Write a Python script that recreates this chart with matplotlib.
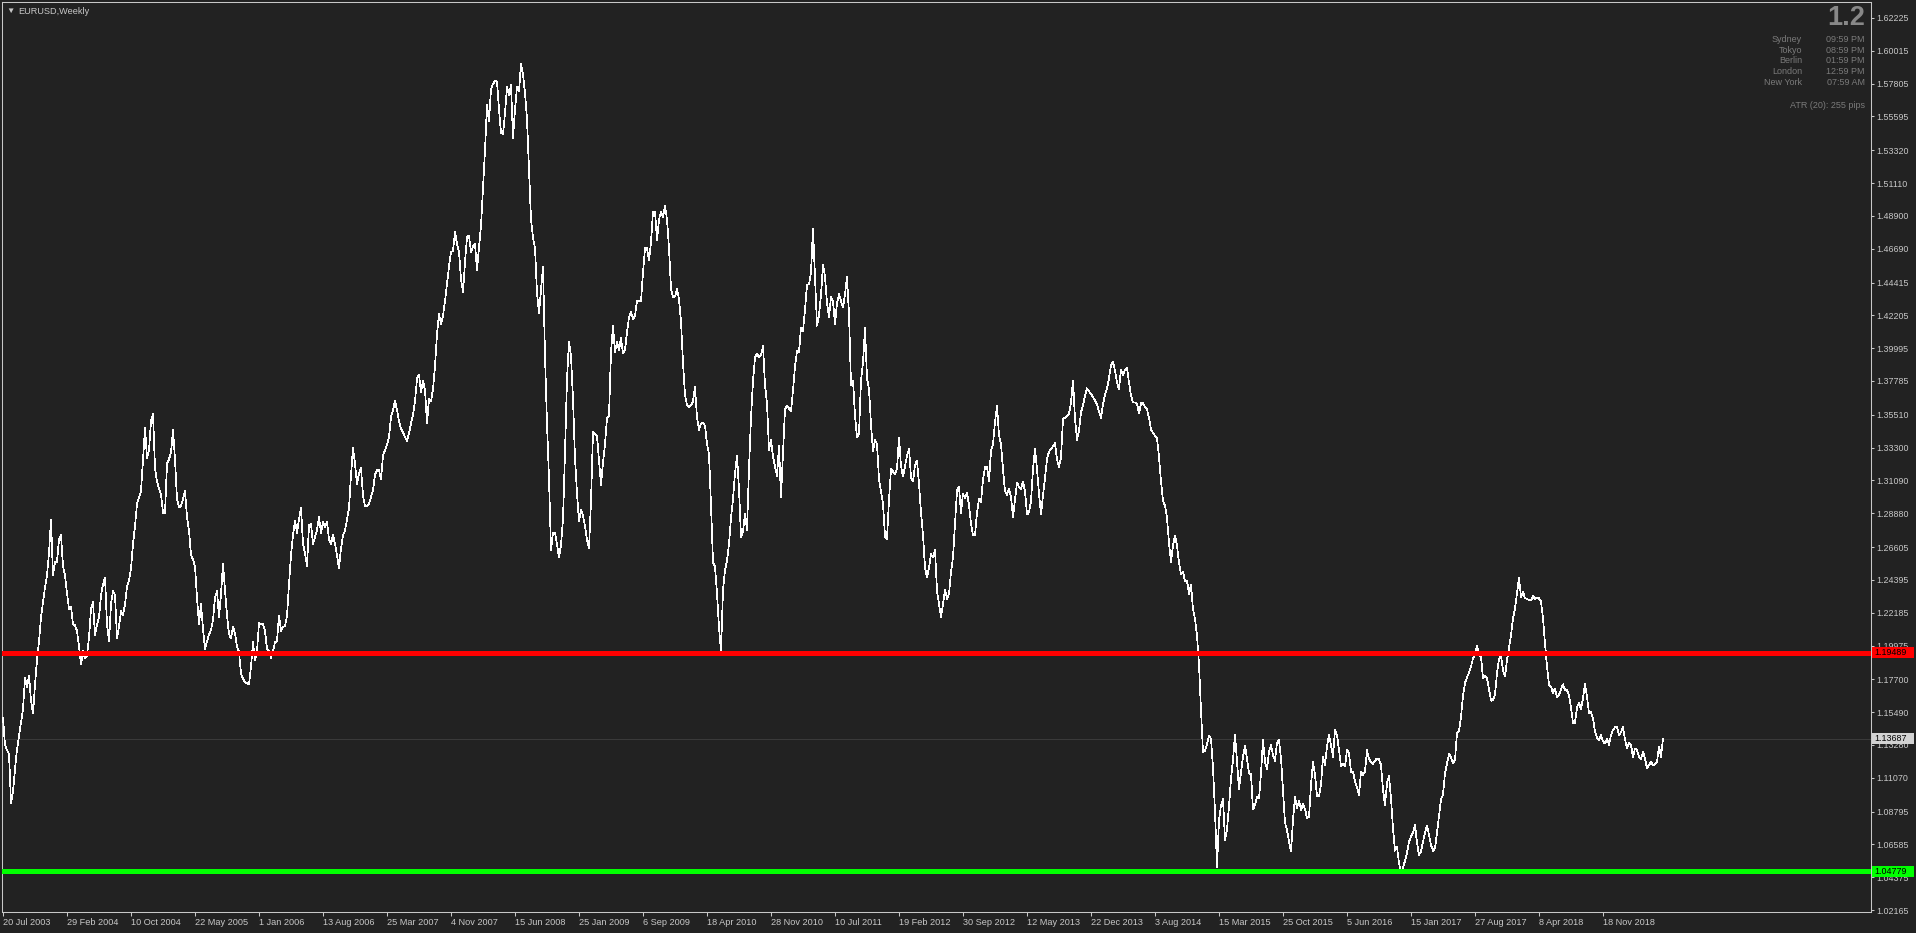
import numpy as np
import matplotlib
matplotlib.use("Agg")
import matplotlib.pyplot as plt
from matplotlib.patches import Rectangle
from matplotlib.transforms import blended_transform_factory

plt.rcParams['font.family'] = ['Liberation Sans', 'DejaVu Sans']

# weekly closes, split by era
closes_2003_2007 = [
    1.1509, 1.1328, 1.1292, 1.1268, 1.0938, 1.1013, 1.1163, 1.1298, 1.1389, 1.1485,
    1.1569, 1.1779, 1.1719, 1.1794, 1.1629, 1.1539, 1.1734, 1.1900, 1.2026, 1.2185,
    1.2290, 1.2389, 1.2471, 1.2621, 1.2846, 1.2471, 1.2561, 1.2561, 1.2711, 1.2741,
    1.2531, 1.2471, 1.2350, 1.2245, 1.2260, 1.2140, 1.2134, 1.2095, 1.1990, 1.1869,
    1.1960, 1.1909, 1.1930, 1.2050, 1.2245, 1.2290, 1.2065, 1.2140, 1.2185, 1.2335,
    1.2410, 1.2456, 1.2140, 1.2026, 1.2275, 1.2365, 1.2335, 1.2050, 1.2125, 1.2230,
    1.2200, 1.2275, 1.2395, 1.2434, 1.2516, 1.2681, 1.2801, 1.2951, 1.2996, 1.3036,
    1.3252, 1.3462, 1.3258, 1.3312, 1.3508, 1.3559, 1.3192, 1.3102, 1.3054, 1.3012,
    1.2891, 1.2891, 1.3222, 1.3252, 1.3297, 1.3448, 1.3252, 1.2982, 1.2928, 1.2937,
    1.2982, 1.3042, 1.2861, 1.2771, 1.2606, 1.2576, 1.2531, 1.2320, 1.2140, 1.2275,
    1.2110, 1.1975, 1.2026, 1.2071, 1.2101, 1.2170, 1.2320, 1.2365, 1.2185, 1.2344,
    1.2546, 1.2374, 1.2200, 1.2074, 1.2044, 1.2125, 1.2080, 1.1990, 1.1954, 1.1809,
    1.1773, 1.1749, 1.1743, 1.1734, 1.1854, 1.2020, 1.1900, 1.1960, 1.2149, 1.2140,
    1.2140, 1.2095, 1.1975, 1.1960, 1.1915, 1.1960, 1.2020, 1.2026, 1.2200, 1.2095,
    1.2125, 1.2125, 1.2200, 1.2410, 1.2606, 1.2741, 1.2837, 1.2756, 1.2846, 1.2922,
    1.2681, 1.2621, 1.2531, 1.2807, 1.2816, 1.2681, 1.2726, 1.2777, 1.2861, 1.2756,
    1.2831, 1.2795, 1.2831, 1.2711, 1.2681, 1.2741, 1.2681, 1.2606, 1.2516, 1.2651,
    1.2741, 1.2771, 1.2846, 1.2922, 1.3147, 1.3327, 1.3222, 1.3087, 1.3156, 1.3192,
    1.3006, 1.2937, 1.2937, 1.2951, 1.2996, 1.3042, 1.3147, 1.3177, 1.3177, 1.3117,
    1.3276, 1.3312, 1.3348, 1.3402, 1.3538, 1.3583, 1.3643, 1.3583, 1.3508, 1.3456,
    1.3432, 1.3402, 1.3372, 1.3426, 1.3493, 1.3553, 1.3643, 1.3793, 1.3823, 1.3703,
    1.3778, 1.3718, 1.3493, 1.3658,
]
closes_2007_2011 = [
    1.3642, 1.3725, 1.3876, 1.4096, 1.4233, 1.4159, 1.4219, 1.4316, 1.4431, 1.4549,
    1.4651, 1.4651, 1.4783, 1.4700, 1.4645, 1.4467, 1.4376, 1.4577, 1.4750, 1.4755,
    1.4645, 1.4687, 1.4700, 1.4527, 1.4673, 1.4824, 1.5085, 1.5332, 1.5635, 1.5525,
    1.5745, 1.5778, 1.5800, 1.5794, 1.5607, 1.5448, 1.5442, 1.5580, 1.5758, 1.5703,
    1.5772, 1.5415, 1.5607, 1.5758, 1.5731, 1.5915, 1.5841, 1.5717, 1.5539, 1.5209,
    1.4865, 1.4742, 1.4673, 1.4371, 1.4233, 1.4393, 1.4549, 1.3945, 1.3491, 1.3120,
    1.2639, 1.2755, 1.2755, 1.2680, 1.2590, 1.2675, 1.2845, 1.3299, 1.3793, 1.4041,
    1.3945, 1.3656, 1.3258, 1.3024, 1.2832, 1.2914, 1.2873, 1.2799, 1.2708, 1.2653,
    1.2969, 1.3436, 1.3422, 1.3409, 1.3244, 1.3079, 1.3230, 1.3354, 1.3532, 1.3546,
    1.3972, 1.4151, 1.3972, 1.4041, 1.3986, 1.4068, 1.3964, 1.3986, 1.4109, 1.4206,
    1.4247, 1.4192, 1.4219, 1.4316, 1.4316, 1.4316, 1.4508, 1.4673, 1.4673, 1.4590,
    1.4714, 1.4920, 1.4920, 1.4728, 1.4865, 1.4920, 1.4879, 1.4961, 1.4865, 1.4673,
    1.4398, 1.4343, 1.4348, 1.4398, 1.4329, 1.4178, 1.3903, 1.3684, 1.3615, 1.3601,
    1.3615, 1.3642, 1.3738, 1.3532, 1.3450, 1.3491, 1.3499, 1.3477, 1.3354, 1.3285,
    1.2942, 1.2557, 1.2529, 1.2351, 1.2117, 1.1960, 1.2370, 1.2502, 1.2570, 1.2680,
    1.2859, 1.2983, 1.3156, 1.3277, 1.3051, 1.2727, 1.2763, 1.2886, 1.2777, 1.3189,
    1.3532, 1.3780, 1.3936, 1.3964, 1.3936, 1.3953, 1.4013, 1.3752, 1.3629, 1.3313,
    1.3381, 1.3271, 1.3203, 1.3139, 1.3340, 1.2996, 1.3285, 1.3587, 1.3612, 1.3593,
    1.3574, 1.3716, 1.3876, 1.3980, 1.3972, 1.4137, 1.4115, 1.4261, 1.4426, 1.4431,
    1.4508, 1.4805, 1.4480, 1.4151, 1.4219, 1.4357, 1.4563, 1.4480, 1.4302, 1.4206,
    1.4343, 1.4316, 1.4164, 1.4302, 1.4362, 1.4316, 1.4274,
]
closes_2011_2015 = [
    1.4360, 1.4479, 1.4227, 1.3753, 1.3782, 1.3545, 1.3397, 1.3427, 1.3782, 1.3901,
    1.4138, 1.3797, 1.3723, 1.3486, 1.3308, 1.3382, 1.3353, 1.3116, 1.3033, 1.2953,
    1.2731, 1.2716, 1.2982, 1.3184, 1.3169, 1.3154, 1.3190, 1.3397, 1.3205, 1.3136,
    1.3205, 1.3273, 1.3323, 1.3131, 1.3101, 1.3213, 1.3243, 1.3086, 1.2893, 1.2739,
    1.2523, 1.2455, 1.2523, 1.2612, 1.2591, 1.2642, 1.2366, 1.2277, 1.2188, 1.2277,
    1.2375, 1.2310, 1.2345, 1.2493, 1.2591, 1.2819, 1.3042, 1.3065, 1.2888, 1.3021,
    1.2988, 1.3024, 1.2944, 1.2819, 1.2739, 1.2739, 1.2893, 1.2982, 1.2962, 1.3116,
    1.3199, 1.3199, 1.3101, 1.3308, 1.3353, 1.3501, 1.3611, 1.3412, 1.3353, 1.3184,
    1.3036, 1.3012, 1.3051, 1.2997, 1.2864, 1.2982, 1.3095, 1.3065, 1.3051, 1.3101,
    1.3036, 1.2879, 1.2893, 1.2968, 1.3184, 1.3323, 1.3184, 1.3018, 1.2879, 1.3006,
    1.3125, 1.3255, 1.3302, 1.3323, 1.3338, 1.3359, 1.3249, 1.3199, 1.3264, 1.3522,
    1.3531, 1.3545, 1.3557, 1.3634, 1.3782, 1.3525, 1.3382, 1.3442, 1.3569, 1.3613,
    1.3679, 1.3729, 1.3708, 1.3693, 1.3670, 1.3649, 1.3619, 1.3575, 1.3531, 1.3619,
    1.3688, 1.3729, 1.3797, 1.3886, 1.3907, 1.3848, 1.3768, 1.3723, 1.3856, 1.3818,
    1.3853, 1.3865, 1.3768, 1.3679, 1.3634, 1.3634, 1.3625, 1.3560, 1.3628, 1.3628,
    1.3605, 1.3587, 1.3531, 1.3450, 1.3430, 1.3409, 1.3397, 1.3264, 1.3101, 1.2973,
    1.2938, 1.2858, 1.2686, 1.2562, 1.2671, 1.2739, 1.2671, 1.2553, 1.2479, 1.2493,
    1.2431, 1.2434, 1.2345, 1.2405, 1.2242, 1.2176, 1.2064, 1.1871, 1.1560, 1.1279,
    1.1288, 1.1332, 1.1391, 1.1368, 1.1175, 1.0879, 1.0508, 1.0819, 1.0923, 1.0962,
    1.0686, 1.0760, 1.0914, 1.1101, 1.1228, 1.1397, 1.1219, 1.1027, 1.1145, 1.1249,
    1.1323, 1.1234, 1.1139, 1.1131, 1.0893, 1.0923, 1.0979, 1.0968,
]
closes_2015_2019 = [
    1.1137, 1.1361, 1.1215, 1.1164, 1.1283, 1.1328, 1.1260, 1.1222, 1.1343, 1.1361,
    1.1238, 1.1025, 1.0805, 1.0755, 1.0677, 1.0610, 1.0823, 1.0980, 1.0901, 1.0953,
    1.0890, 1.0930, 1.0897, 1.0834, 1.0845, 1.1058, 1.1215, 1.1126, 1.0984, 1.0984,
    1.1058, 1.1249, 1.1193, 1.1321, 1.1395, 1.1328, 1.1249, 1.1429, 1.1395, 1.1294,
    1.1186, 1.1200, 1.1182, 1.1294, 1.1272, 1.1148, 1.1148, 1.1081, 1.1043, 1.0991,
    1.1148, 1.1126, 1.1148, 1.1294, 1.1231, 1.1215, 1.1200, 1.1222, 1.1238, 1.1231,
    1.1193, 1.1025, 1.0924, 1.1070, 1.1119, 1.0969, 1.0767, 1.0616, 1.0643, 1.0531,
    1.0468, 1.0504, 1.0547, 1.0603, 1.0677, 1.0710, 1.0737, 1.0787, 1.0670, 1.0587,
    1.0610, 1.0677, 1.0737, 1.0785, 1.0722, 1.0654, 1.0616, 1.0632, 1.0737, 1.0850,
    1.0962, 1.0993, 1.1137, 1.1204, 1.1267, 1.1245, 1.1204, 1.1227, 1.1411, 1.1420,
    1.1518, 1.1658, 1.1747, 1.1783, 1.1815, 1.1855, 1.1911, 1.1934, 1.1996, 1.1934,
    1.1922, 1.1777, 1.1792, 1.1777, 1.1705, 1.1626, 1.1631, 1.1669, 1.1810, 1.1904,
    1.1927, 1.1833, 1.1788, 1.1900, 1.1979, 1.2068, 1.2181, 1.2248, 1.2349, 1.2452,
    1.2326, 1.2360, 1.2315, 1.2313, 1.2302, 1.2300, 1.2331, 1.2308, 1.2322, 1.2315,
    1.2293, 1.2181, 1.2012, 1.1855, 1.1732, 1.1720, 1.1676, 1.1709, 1.1649, 1.1664,
    1.1702, 1.1736, 1.1698, 1.1696, 1.1664, 1.1575, 1.1478, 1.1478, 1.1581, 1.1613,
    1.1568, 1.1642, 1.1738, 1.1653, 1.1541, 1.1550, 1.1507, 1.1417, 1.1379, 1.1357,
    1.1395, 1.1352, 1.1337, 1.1370, 1.1328, 1.1395, 1.1429, 1.1447, 1.1447, 1.1395,
    1.1413, 1.1447, 1.1366, 1.1307, 1.1343, 1.1328, 1.1245, 1.1305, 1.1294, 1.1245,
    1.1231, 1.1283, 1.1238, 1.1171, 1.1193, 1.1215, 1.1189, 1.1198, 1.1215, 1.1316,
    1.1249, 1.13687,
]

# horizontal levels and the current bid
resistance = 1.19489
support = 1.04779
bid = 1.13687

# y ticks as printed by the terminal
y_ticks = [1.62225, 1.60015, 1.57805, 1.55595, 1.53320, 1.51110, 1.48900, 1.46690,
           1.44415, 1.42205, 1.39995, 1.37785, 1.35510, 1.33300, 1.31090, 1.28880,
           1.26605, 1.24395, 1.22185, 1.19975, 1.17700, 1.15490, 1.13280, 1.11070,
           1.08795, 1.06585, 1.04375, 1.02165]

# x labels, one every 32 bars
x_labels = ['20 Jul 2003', '29 Feb 2004', '10 Oct 2004', '22 May 2005', '1 Jan 2006',
            '13 Aug 2006', '25 Mar 2007', '4 Nov 2007', '15 Jun 2008', '25 Jan 2009',
            '6 Sep 2009', '18 Apr 2010', '28 Nov 2010', '10 Jul 2011', '19 Feb 2012',
            '30 Sep 2012', '12 May 2013', '22 Dec 2013', '3 Aug 2014', '15 Mar 2015',
            '25 Oct 2015', '5 Jun 2016', '15 Jan 2017', '27 Aug 2017', '8 Apr 2018',
            '18 Nov 2018']
x_label_bars = [32 * i for i in range(len(x_labels))]

cities = ['Sydney', 'Tokyo', 'Berlin', 'London', 'New York']
city_times = ['09:59 PM', '08:59 PM', '01:59 PM', '12:59 PM', '07:59 AM']

closes = closes_2003_2007 + closes_2007_2011 + closes_2011_2015 + closes_2015_2019
bars = np.arange(len(closes))

BG = '#222222'
FG = '#c8c8c8'
W, H = 1916, 933

fig = plt.figure(figsize=(W / 100, H / 100), dpi=100, facecolor=BG)
ax = fig.add_axes([2 / W, 21 / H, 1869 / W, 910 / H], facecolor=BG)

ax.axhline(bid, color='#3a3a3a', lw=0.75, zorder=1)
ax.plot(bars, closes, color='white', lw=0.5, antialiased=False, zorder=3)
ax.axhline(resistance, color='#ff0000', lw=3.6, zorder=4)
ax.axhline(support, color='#00ff00', lw=3.6, zorder=4)

ax.set_xlim(-0.5, 934)
ax.set_ylim(1.02032, 1.63302)

for s in ax.spines.values():
    s.set_color(FG)
    s.set_linewidth(0.75)

ax.yaxis.tick_right()
ax.set_yticks(y_ticks)
ax.set_yticklabels([f'{v:.5f}' for v in y_ticks])
ax.tick_params(axis='y', colors=FG, length=2.5, width=0.75, pad=1.5, labelsize=6.4)
ax.set_xticks(x_label_bars)
ax.set_xticklabels(x_labels, ha='left')
ax.tick_params(axis='x', colors=FG, length=3, width=0.75, pad=1, labelsize=6.6)

# price tags on the right scale
trans = blended_transform_factory(ax.transAxes, ax.transData)
for price, col in [(resistance, '#ff0000'), (support, '#00ff00'), (bid, '#d2d2d2')]:
    ax.add_patch(Rectangle((1.0005, price - 0.0037), 0.0225, 0.0074, transform=trans,
                           facecolor=col, edgecolor='none', clip_on=False, zorder=10))
    ax.text(1.0016, price, f'{price:.5f}', transform=trans, color='black', fontsize=6.4,
            va='center', ha='left', clip_on=False, zorder=11)

# header text
fig.text(6 / W, 1 - 11 / H, '\u25bc', color=FG, fontsize=6, va='center', ha='left')
fig.text(18 / W, 1 - 11 / H, 'EURUSD,Weekly', color=FG, fontsize=6.6, va='center', ha='left')

fig.text(1865 / W, 1 - 18 / H, '1.2', color='#888888', fontsize=19.5, fontweight='bold',
         va='center', ha='right')
for i, (c, t) in enumerate(zip(cities, city_times)):
    y = 1 - (39.5 + 10.7 * i) / H
    fig.text(1802 / W, y, c, color='#7a7a7a', fontsize=6.5, va='center', ha='right')
    fig.text(1865 / W, y, t, color='#7a7a7a', fontsize=6.5, va='center', ha='right')
fig.text(1865 / W, 1 - 105.5 / H, 'ATR (20): 255 pips', color='#7a7a7a', fontsize=6.5,
         va='center', ha='right')

fig.savefig('out.png', dpi=100, facecolor=BG)
